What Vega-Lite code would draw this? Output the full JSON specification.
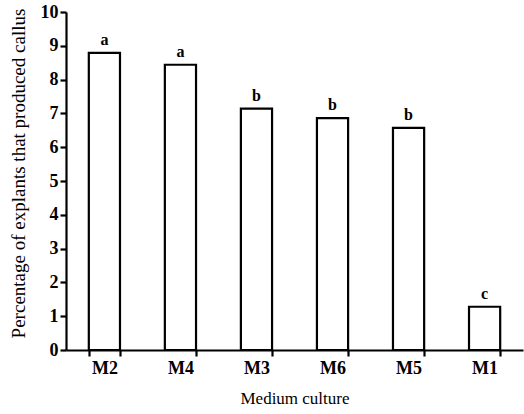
{
  "$schema": "https://vega.github.io/schema/vega-lite/v6.json",
  "width": 457,
  "height": 338,
  "autosize": "none",
  "padding": {"left": 66, "top": 12, "right": 1, "bottom": 64},
  "background": "white",
  "data": {"values": [
    {"medium": "M2", "value": 8.79, "group": "a"},
    {"medium": "M4", "value": 8.44, "group": "a"},
    {"medium": "M3", "value": 7.14, "group": "b"},
    {"medium": "M6", "value": 6.86, "group": "b"},
    {"medium": "M5", "value": 6.57, "group": "b"},
    {"medium": "M1", "value": 1.28, "group": "c"}
  ]},
  "encoding": {
    "x": {"field": "medium", "type": "nominal", "sort": null,
      "scale": {"paddingInner": 0.59, "paddingOuter": 0.3},
      "axis": {"title": "Medium culture", "labelAngle": 0, "tickBand": "extent", "labelPadding": 3, "titlePadding": 13, "titleFontSize": 17}},
    "y": {"field": "value", "type": "quantitative",
      "scale": {"domain": [0, 10], "nice": false},
      "axis": {"title": "Percentage of explants that produced callus", "values": [0,1,2,3,4,5,6,7,8,9,10], "labelOverlap": false, "labelFlush": false, "grid": false, "labelPadding": 2, "titlePadding": 12, "titleFontSize": 19, "titleY": 161}}
  },
  "layer": [
    {"mark": {"type": "bar", "fill": "white", "stroke": "black", "strokeWidth": 2.2}},
    {"mark": {"type": "text", "dy": -5, "font": "Liberation Serif, Times New Roman, serif", "fontWeight": "bold", "fontSize": 16, "baseline": "bottom", "color": "black"},
     "encoding": {"text": {"field": "group"}}}
  ],
  "config": {
    "view": {"stroke": null},
    "axis": {
      "domainColor": "black", "domainWidth": 2.2, "tickColor": "black", "tickWidth": 2.2, "tickSize": 6,
      "labelFont": "Liberation Serif, Times New Roman, serif", "labelFontWeight": "bold", "labelFontSize": 18, "labelColor": "black",
      "titleFont": "Liberation Serif, Times New Roman, serif", "titleFontWeight": "normal", "titleColor": "black"
    }
  }
}
